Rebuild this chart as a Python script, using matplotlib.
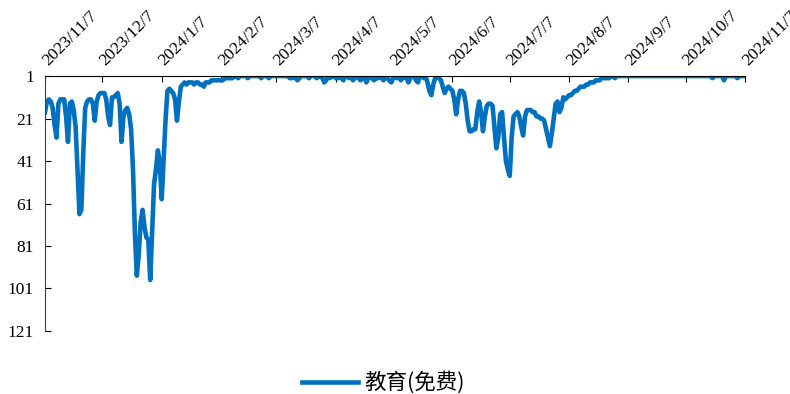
import matplotlib.pyplot as plt
import numpy as np
import pandas as pd

start = '2023-11-07'

# day offsets from start, and the rank on that day
days = list(range(0, 99))
rank = [18, 13, 12, 13, 16, 24, 30, 14, 12, 12,
        12, 20, 32, 14, 13, 17, 25, 45, 66, 64,
        37, 16, 13, 12, 12, 14, 22, 13, 10, 9,
        9, 9, 12, 20, 24, 11, 11, 10, 9, 14,
        32, 20, 17, 16, 19, 26, 45, 75, 95, 85,
        70, 64, 72, 77, 78, 97, 75, 52, 45, 36,
        42, 59, 40, 22, 8, 7, 8, 9, 12, 22,
        13, 6, 5, 4, 5, 4, 4, 4, 5, 4,
        4, 5, 5, 6, 4, 4, 4, 3, 3, 3,
        3, 3, 3, 3, 2, 2, 2, 2, 2]

days += list(range(99, 301))
rank += [1, 1, 2, 1, 1, 1, 1, 2, 1, 1, 1, 1, 1, 1, 2, 1, 1, 1, 2, 1,
         1, 1, 1, 1, 1, 1, 1, 1, 1, 2, 2, 1,
         2, 3, 2, 1, 1, 1, 1, 2, 1, 1, 1, 2, 1, 1, 2, 4, 3, 1, 2, 1,
         1, 2, 2, 1, 2, 3, 1, 1, 2, 1, 3, 2, 1, 2, 3, 2, 1, 4, 2, 1,
         2, 3, 2, 2, 1, 2, 3, 1, 2, 3, 4, 2, 1, 2, 1, 3, 2, 1, 2, 4,
         2, 1, 1, 3, 4, 1, 1, 2, 1, 4, 8, 10, 5, 2, 1, 2, 3, 6, 9, 7,
         6, 7, 8, 12, 19, 12, 8, 8, 9, 14, 22, 27, 27, 26, 26, 18, 13, 18, 27, 20,
         15, 14, 14, 15, 25, 35, 30, 19, 18, 30, 41, 45, 48, 30, 20, 19, 18, 20, 25, 29,
         20, 17, 17, 17, 18, 18, 20, 20, 21, 21, 22, 26, 30, 34, 28, 21, 14, 13, 18, 16,
         11, 12, 11, 10, 10, 9, 8, 8, 7, 6, 6, 6, 5, 5, 4, 4, 4, 3, 3, 3,
         2, 2, 2, 2, 2, 1, 1, 2, 1, 1]

days += list(range(301, 367))
rank += [1, 1, 1, 1, 1, 1, 1, 1, 1, 1, 1, 1, 1, 1, 1, 1, 1, 1, 1, 1,
         1, 1, 1, 1, 1, 1, 1, 1, 1, 1, 1, 1, 1, 1, 1, 1, 1, 1, 1, 1,
         1, 1, 1, 1, 1, 1, 1, 1, 2, 1, 1, 1, 1, 1, 3, 1, 1, 1, 1, 1,
         1, 2, 1, 1, 1, 1]

label = '教育(免费)'
tick_dates = pd.date_range('2023-11-01', '2024-11-07', freq='MS') + pd.Timedelta(days=6)
tick_labels = [f'{d.year}/{d.month}/{d.day}' for d in tick_dates]
yticks = [1, 21, 41, 61, 81, 101, 121]

dates = pd.Timestamp(start) + pd.to_timedelta(days, unit='D')

plt.rcParams['font.family'] = ['Liberation Serif', 'Noto Sans CJK SC']

fig = plt.figure(figsize=(7.9, 3.94), dpi=100)
ax = fig.add_axes([0.057, 0.16, 0.886, 0.647])
ax.plot(dates, rank, color='#0070C0', lw=3.3, label=label, solid_joinstyle='round')

ax.set_ylim(121, 1)
ax.set_yticks(yticks)
ax.set_xlim(tick_dates[0], tick_dates[-1])
ax.set_xticks(tick_dates)
ax.set_xticklabels(tick_labels, rotation=45, ha='left', va='center', rotation_mode='anchor')
ax.xaxis.tick_top()
ax.tick_params(axis='x', direction='in', length=4, pad=9, labelsize=12.5, top=True, bottom=False)
ax.tick_params(axis='y', direction='in', length=4, pad=8, labelsize=12.5, colors='black')
for s in ['right', 'bottom']:
  ax.spines[s].set_visible(False)
ax.spines['left'].set_color('#404040')
ax.spines['top'].set_color('black')

fig.legend(loc='center', bbox_to_anchor=(0.485, 0.028), frameon=False,
           handlelength=2.6, handletextpad=0.3,
           prop={'family': 'Noto Sans CJK SC', 'size': 15.5})

fig.savefig('out.png', dpi=100)
